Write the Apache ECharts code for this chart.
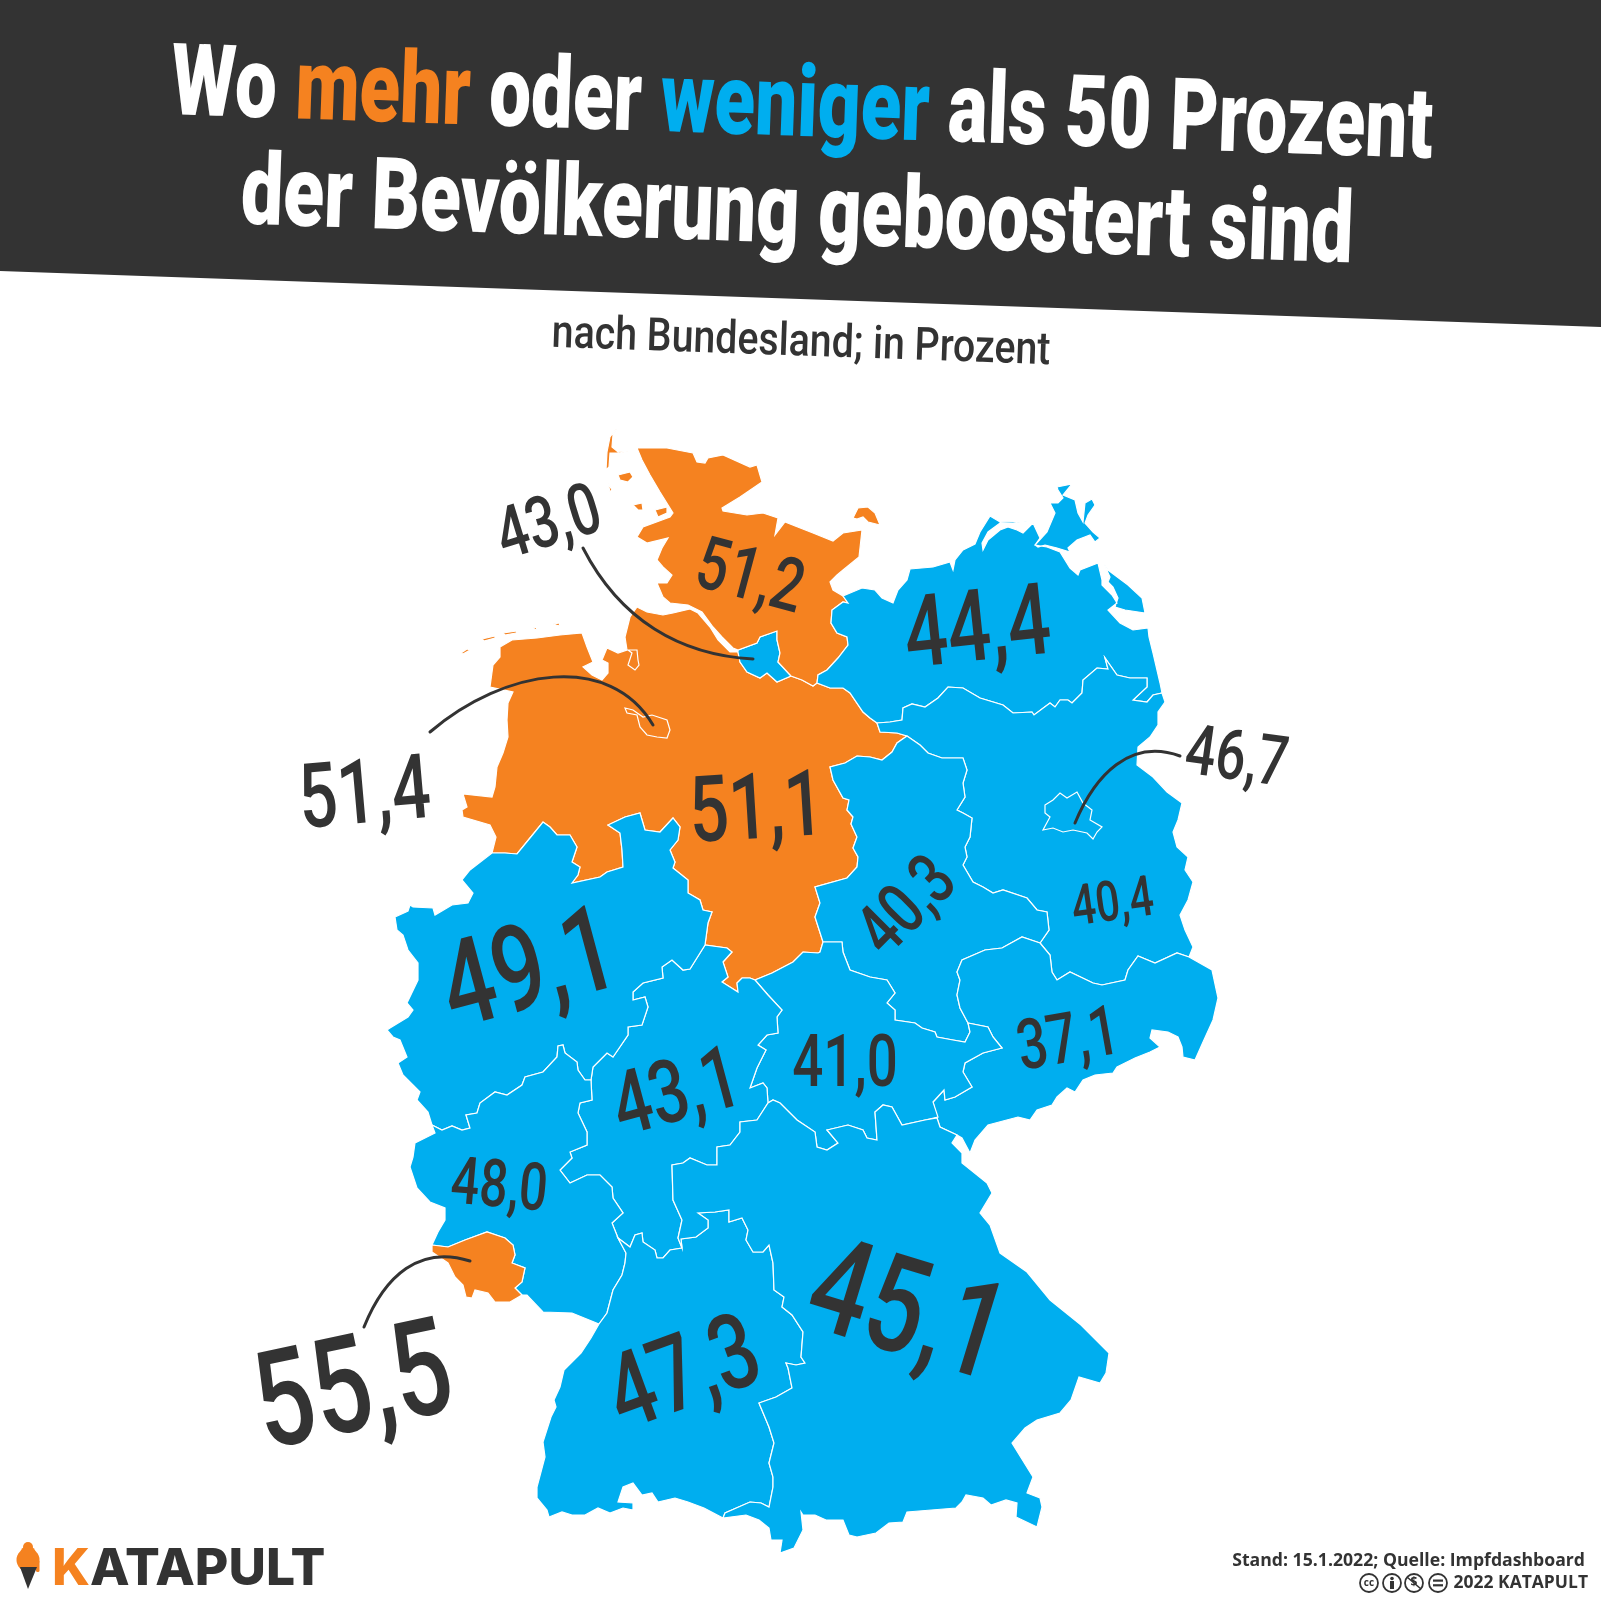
<!DOCTYPE html>
<html>
<head>
<meta charset="utf-8">
<style>html,body{margin:0;background:#fff}#box{width:1601px;height:1600px}</style>
<script src="https://cdn.jsdelivr.net/npm/echarts@6/dist/echarts.min.js"></script>
</head>
<body>
<div id="box"></div>
<script>
// booster quota per Bundesland, in Prozent
var stateNames  = ['Niedersachsen','Bremen','Hamburg','Schleswig-Holstein','Mecklenburg-Vorpommern','Brandenburg','Berlin','Sachsen-Anhalt','Sachsen','Thüringen','Hessen','Nordrhein-Westfalen','Rheinland-Pfalz','Saarland','Baden-Württemberg','Bayern'];
var stateValues = [51.1,51.4,43.0,51.2,44.4,40.4,46.7,40.3,37.1,41.0,43.1,49.1,48.0,55.5,47.3,45.1];

// label size/place, same order as stateNames
var labelX     = [757,365,550,749,978,1113,1236,910,1069,845,678,531,499,355,686,905];
var labelY     = [815,800,527,581,635,906,762,909,1044,1068,1098,977,1190,1396,1380,1320];
var labelSize  = [92,90,72,74,100,56,70,72,70,72,88,120,66,135,105,135];
var labelAngle = [-3.5,-5,-17,15,-6,-8,8,-45,-10,0,-15,-15,5,-12,-20,17];

var ORANGE = '#F58220', BLUE = '#00AEEF', DARK = '#333333';
var FONT = 'Roboto';

// borders, map units. shared borders are kept once, as arcs
var hhNorth = [[738,650],[757,643],[760,637],[777,631],[777,640],[780,653],[778,662],[791,676]];
var hhSouth = [[791,676],[777,682],[767,673],[760,678],[747,672],[740,662],[738,652]];
var shCoast = [[738,650],[733,648],[722,637],[713,627],[702,612],[688,605],[670,603],[663,597],[657,583],[667,583],[672,575],[663,567],[657,560],[662,548],[668,538],[647,543],[637,537],[643,527],[670,517],[673,513],[660,492],[650,475],[642,460],[637,448],[667,448],[693,453],[697,462],[705,463],[708,458],[723,455],[750,467],[757,465],[762,482],[740,497],[722,508],[723,511],[747,515],[763,513],[778,518],[775,535],[785,522],[813,533],[833,541],[843,533],[862,530],[859,557],[843,570],[837,575],[830,582],[833,590],[843,596],[848,603]];
var shMv = [[848,603],[843,602],[832,610],[831,623],[837,633],[847,637],[848,645],[838,658],[827,670],[818,675],[817,683]];
var niSh = [[791,676],[802,680],[813,686],[817,683]];
var niMv = [[817,683],[830,688],[843,688],[850,693],[863,712],[870,718],[877,723]];
var niBb = [[877,723],[880,732],[897,733],[907,736]];
var niSt = [[907,736],[897,743],[892,752],[882,760],[870,757],[857,756],[845,763],[830,767],[833,780],[843,798],[849,800],[847,810],[853,817],[851,824],[857,837],[853,848],[858,857],[857,867],[847,878],[815,887],[820,903],[815,917],[823,942]];
var niTh = [[823,942],[820,952],[818,953],[803,952],[793,962],[772,973],[755,980]];
var niHe = [[755,980],[750,978],[742,978],[737,983],[738,992],[722,982],[728,977],[723,962],[732,952],[727,948],[705,945]];
var niNrw = [[705,945],[708,923],[712,912],[703,910],[700,900],[688,893],[688,880],[673,868],[675,862],[670,850],[678,840],[680,827],[673,818],[660,832],[645,830],[640,813],[625,817],[608,825],[620,833],[622,850],[623,867],[607,872],[600,877],[572,883],[578,875],[580,867],[572,862],[577,847],[570,835],[557,835],[550,827],[543,822],[530,838],[517,854],[505,853],[492,853]];
var niCoast = [[492,853],[496,837],[490,825],[463,817],[462,810],[467,807],[463,794],[492,797],[495,787],[497,767],[503,753],[508,737],[507,720],[508,703],[513,692],[490,687],[493,665],[500,657],[500,647],[512,640],[537,638],[560,635],[582,633],[587,647],[593,662],[583,667],[592,675],[602,680],[608,673],[608,663],[602,660],[607,648],[618,653],[627,650],[625,637],[630,617],[637,607],[647,612],[663,615],[673,613],[690,609],[698,613],[710,627],[718,640],[730,652],[738,652]];
var mvCoast = [[848,603],[843,596],[862,588],[875,590],[882,598],[893,603],[898,590],[907,580],[910,569],[933,567],[950,562],[953,570],[955,560],[963,550],[975,544],[980,532],[990,516],[1000,522],[1027,521],[1013,523],[1000,523],[988,532],[982,543],[983,550],[988,540],[1000,530],[1008,527],[1017,530],[1023,533],[1033,523],[1040,538],[1035,545],[1047,547],[1060,552],[1070,568],[1078,575],[1080,570],[1098,563],[1102,580],[1102,585],[1112,595],[1117,603],[1108,610],[1120,623],[1133,630],[1148,628],[1149,637],[1153,653],[1160,683],[1162,693]];
var mvBb = [[877,723],[890,722],[902,720],[903,708],[912,704],[925,707],[938,698],[948,687],[963,688],[980,698],[1003,705],[1013,713],[1032,712],[1034,715],[1050,703],[1055,707],[1060,700],[1068,700],[1072,703],[1082,693],[1083,680],[1097,668],[1108,669],[1105,658],[1117,675],[1130,678],[1147,678],[1147,687],[1133,700],[1147,702],[1153,695],[1162,693]];
var oder = [[1162,693],[1165,702],[1158,712],[1158,725],[1150,737],[1138,747],[1137,765],[1153,777],[1167,792],[1182,803],[1178,820],[1173,832],[1177,847],[1188,857],[1185,870],[1193,882],[1188,900],[1180,915],[1185,930],[1193,947],[1189,957]];
var bbSn = [[1189,957],[1177,953],[1155,963],[1138,956],[1128,970],[1125,980],[1102,985],[1093,983],[1070,972],[1057,980],[1052,972],[1050,955],[1040,943]];
var bbSt = [[1040,943],[1049,930],[1047,912],[1037,910],[1027,898],[1003,890],[993,893],[983,887],[973,882],[963,865],[967,857],[965,847],[970,837],[972,818],[963,813],[957,810],[965,797],[963,783],[967,770],[963,758],[942,758],[928,753],[920,745],[907,736]];
var stSn = [[1040,943],[1022,937],[1002,948],[985,950],[962,960],[957,972],[960,980],[957,995],[960,1008],[968,1023]];
var stTh = [[823,942],[842,942],[843,952],[850,970],[870,977],[887,980],[895,993],[887,1003],[895,1010],[895,1020],[915,1023],[922,1028],[935,1032],[937,1037],[953,1040],[965,1042],[970,1032],[968,1023]];
var thSn = [[968,1023],[988,1027],[993,1037],[1002,1048],[983,1053],[965,1063],[963,1072],[972,1087],[955,1097],[945,1100],[944,1090],[933,1102],[938,1117],[937,1118]];
var thBy = [[937,1118],[925,1120],[902,1125],[892,1107],[883,1105],[875,1112],[877,1140],[867,1138],[863,1130],[848,1125],[827,1130],[838,1143],[827,1150],[817,1147],[815,1132],[797,1120],[780,1103],[773,1100],[768,1103]];
var snBy = [[957,1135],[940,1127],[937,1118]];
var snCz = [[1189,957],[1212,970],[1218,998],[1213,1020],[1203,1042],[1195,1060],[1183,1057],[1182,1047],[1178,1037],[1168,1032],[1152,1030],[1150,1038],[1160,1047],[1150,1052],[1135,1058],[1117,1067],[1113,1073],[1095,1075],[1083,1080],[1075,1092],[1067,1088],[1057,1097],[1052,1105],[1037,1110],[1030,1120],[1018,1117],[988,1125],[975,1140],[970,1153],[962,1138],[957,1135]];
var byEdge = [[957,1135],[952,1143],[962,1153],[962,1163],[987,1183],[992,1193],[980,1213],[990,1225],[1000,1253],[1027,1272],[1050,1300],[1081,1325],[1109,1353],[1106,1373],[1100,1383],[1079,1377],[1071,1400],[1060,1413],[1037,1420],[1025,1428],[1012,1443],[1033,1477],[1027,1493],[1040,1498],[1042,1507],[1037,1527],[1016,1517],[1017,1503],[1006,1500],[991,1505],[983,1498],[966,1495],[962,1502],[956,1508],[907,1512],[903,1522],[889,1523],[876,1533],[857,1537],[849,1535],[843,1520],[826,1520],[815,1515],[803,1515],[801,1512],[803,1530],[794,1548],[780,1553],[782,1540],[771,1540],[769,1528],[759,1520],[746,1515],[723,1518],[725,1513]];
var byBw = [[682,1248],[681,1239],[696,1237],[708,1228],[708,1220],[698,1213],[715,1212],[729,1210],[729,1222],[742,1218],[748,1230],[746,1240],[753,1252],[763,1252],[769,1245],[773,1263],[774,1290],[784,1297],[782,1307],[792,1315],[803,1332],[801,1357],[805,1363],[796,1365],[786,1363],[788,1368],[792,1388],[776,1397],[759,1403],[769,1427],[774,1443],[769,1463],[773,1477],[773,1487],[769,1507],[761,1503],[750,1502],[725,1513]];
var bwSouth = [[725,1513],[723,1518],[704,1508],[688,1502],[675,1498],[658,1502],[652,1493],[642,1495],[633,1483],[623,1487],[618,1502],[633,1503],[633,1510],[623,1508],[610,1513],[598,1508],[585,1515],[572,1515],[562,1512],[549,1517],[547,1510],[537,1498],[537,1487],[545,1457],[543,1442],[551,1417],[556,1407],[554,1400],[560,1387],[564,1370],[581,1353],[591,1338],[599,1324]];
var heBw = [[618,1238],[630,1247],[635,1235],[642,1233],[643,1242],[655,1250],[657,1258],[663,1258],[670,1250],[682,1248]];
var heBy = [[682,1248],[678,1238],[682,1220],[673,1200],[672,1165],[683,1163],[690,1158],[707,1165],[717,1165],[717,1147],[730,1145],[740,1132],[740,1122],[757,1120],[768,1103]];
var heTh = [[768,1103],[767,1088],[763,1083],[750,1088],[757,1068],[766,1050],[758,1045],[767,1035],[778,1033],[777,1017],[782,1010],[768,995],[755,980]];
var nrwHe = [[591,1080],[593,1067],[607,1053],[613,1057],[628,1035],[628,1027],[642,1025],[648,1007],[645,997],[633,1000],[633,992],[643,983],[663,978],[662,967],[672,960],[683,970],[690,969],[705,945]];
var nrwRp = [[432,1125],[442,1130],[452,1126],[462,1130],[470,1128],[466,1115],[477,1113],[480,1103],[495,1092],[507,1095],[522,1085],[525,1077],[543,1072],[557,1057],[558,1046],[563,1045],[565,1053],[577,1062],[578,1070],[585,1080],[591,1080]];
var nrwWest = [[492,853],[470,870],[462,880],[473,893],[468,903],[452,905],[435,915],[433,908],[413,907],[410,905],[408,911],[395,917],[397,930],[403,935],[408,950],[418,963],[418,980],[407,1003],[413,1010],[408,1017],[390,1028],[387,1030],[393,1037],[400,1040],[407,1057],[398,1063],[403,1075],[420,1092],[417,1100],[428,1112],[432,1125]];
var rpWest = [[432,1125],[435,1133],[415,1143],[413,1157],[410,1167],[417,1188],[430,1202],[445,1208],[445,1220],[438,1232],[432,1245]];
var slRp = [[432,1245],[448,1247],[465,1240],[487,1232],[505,1238],[513,1245],[515,1255],[512,1263],[525,1268],[522,1282],[515,1288],[522,1295]];
var slSouth = [[522,1295],[510,1302],[495,1302],[488,1293],[475,1290],[472,1298],[466,1297],[463,1285],[455,1277],[448,1263],[432,1252],[432,1245]];
var rpSouth = [[522,1295],[527,1295],[543,1312],[572,1313],[599,1324]];
var rpBw = [[599,1324],[607,1313],[613,1290],[622,1275],[625,1263],[626,1253],[618,1238]];
var rpHe = [[618,1238],[612,1223],[623,1213],[613,1198],[612,1187],[600,1175],[587,1175],[570,1183],[560,1170],[572,1158],[570,1152],[587,1145],[587,1132],[578,1113],[580,1103],[592,1100],[591,1080]];

// islands and enclaves
var sylt = [[617,428],[610,437],[607,452],[606,470],[609,467],[610,453],[620,453],[628,451],[618,452],[612,447],[613,435]];
var foehr = [[618,475],[630,472],[633,477],[628,482],[620,480]];
var amrum = [[608,483],[612,490],[610,492]];
var pellworm = [[633,505],[642,503],[643,510],[638,510]];
var nordstrand = [[655,510],[667,507],[667,513],[658,517]];
var fehmarn = [[853,518],[858,508],[868,507],[875,513],[880,525],[868,522],[863,517],[857,519]];
var ruegen = [[1057,487],[1072,484],[1063,495],[1075,500],[1078,513],[1083,522],[1085,503],[1092,499],[1095,505],[1088,515],[1085,523],[1093,532],[1100,538],[1095,542],[1090,535],[1077,540],[1068,548],[1070,552],[1057,548],[1045,545],[1038,547],[1035,545],[1047,532],[1055,513],[1052,507],[1050,503],[1058,503],[1063,498],[1058,490]];
var usedom = [[1104,564],[1108,570],[1128,585],[1142,598],[1145,613],[1125,610],[1115,607],[1118,598],[1113,587],[1108,582],[1110,577]];
var ostfriesen = [[[461,653],[467,649],[470,650],[463,654]],[[482,639],[495,636],[495,638],[484,641]],[[503,633],[517,631],[516,633],[505,635]],[[533,628],[537,627],[536,630]],[[553,624],[560,623],[559,626]]];
var bremen = [[625,708],[633,710],[643,717],[652,715],[667,720],[670,730],[667,738],[657,737],[647,735],[640,727],[637,715],[627,713]];
var bremerhaven = [[628,650],[637,650],[638,660],[639,665],[635,670],[628,665],[632,653]];
var berlin = [[1045,805],[1053,800],[1060,793],[1067,798],[1077,792],[1083,803],[1092,810],[1090,820],[1102,827],[1097,832],[1093,839],[1087,833],[1073,830],[1063,832],[1053,828],[1043,830],[1050,817],[1045,813]];

function rev(a) { return a.slice().reverse(); }
function ring() {
    var out = [];
    for (var i = 0; i < arguments.length; i++) out = out.concat(arguments[i]);
    return out;
}

// outlines per state, same order as stateNames
var stateShapes = [
    [ring(rev(hhSouth), niSh, niMv, niBb, niSt, niTh, niHe, niNrw, niCoast)].concat(ostfriesen),
    [bremen, bremerhaven],
    [ring(hhNorth, hhSouth)],
    [ring(shCoast, shMv, rev(niSh), rev(hhNorth)), sylt, foehr, amrum, pellworm, nordstrand, fehmarn],
    [ring(rev(shMv), mvCoast, rev(mvBb), rev(niMv)), ruegen, usedom],
    [ring(mvBb, oder, bbSn, bbSt, rev(niBb))],
    [berlin],
    [ring(niSt, stTh, rev(stSn), bbSt)],
    [ring(rev(bbSn), snCz, snBy, rev(thSn), rev(stSn))],
    [ring(stTh, thSn, thBy, heTh, rev(niTh))],
    [ring(heTh, niHe, rev(nrwHe), rev(rpHe), heBw, heBy)],
    [ring(niNrw, nrwWest, nrwRp, nrwHe)],
    [ring(rpWest, slRp, rpSouth, rpBw, rpHe, rev(nrwRp))],
    [ring(slRp, slSouth)],
    [ring(heBw, byBw, bwSouth, rpBw)],
    [ring(heBy, rev(thBy), rev(snBy), byEdge, rev(byBw))]
];

function closed(r) { return r.concat([r[0]]); }

echarts.registerMap('deutschland', {
    type: 'FeatureCollection',
    features: stateNames.map(function (name, i) {
        return {
            type: 'Feature',
            properties: { name: name },
            geometry: {
                type: 'MultiPolygon',
                coordinates: stateShapes[i].map(function (r) { return [closed(r)]; })
            }
        };
    })
});

var chart = echarts.init(document.getElementById('box'));
var rad = Math.PI / 180;

chart.setOption({
    animation: false,
    backgroundColor: '#ffffff',
    visualMap: {
        show: false,
        type: 'piecewise',
        seriesIndex: 0,
        pieces: [
            { gt: 50, color: ORANGE },
            { lte: 50, color: BLUE }
        ]
    },
    geo: {
        map: 'deutschland',
        left: 0, top: 0, width: 1601, height: 1600,
        boundingCoords: [[0, 0], [1601, 1600]],
        projection: {
            project: function (p) { return [p[0], p[1]]; },
            unproject: function (p) { return [p[0], p[1]]; }
        },
        silent: true,
        label: { show: false },
        itemStyle: { areaColor: BLUE, borderColor: '#ffffff', borderWidth: 1.2 }
    },
    series: [{
        type: 'map',
        geoIndex: 0,
        silent: true,
        data: stateNames.map(function (n, i) { return { name: n, value: stateValues[i] }; })
    }]
});

function title(text, x, y, size, sx, rich) {
    return {
        type: 'text', x: x, y: y, scaleX: sx, rotation: -2 * rad, z: 20,
        style: {
            text: text, fill: '#ffffff', fontFamily: FONT, fontWeight: 900, fontSize: size,
            align: 'center', verticalAlign: 'middle', rich: rich
        }
    };
}
function tok(color, size) { return { fill: color, fontFamily: FONT, fontWeight: 900, fontSize: size }; }

var at = function (x, y) { return chart.convertToPixel({ geoIndex: 0 }, [x, y]); };
function leader(a, c1, c2, b) {
    var p0 = at(a[0], a[1]), p1 = at(c1[0], c1[1]), p2 = at(c2[0], c2[1]), p3 = at(b[0], b[1]);
    return {
        type: 'bezierCurve', z: 15,
        shape: { x1: p0[0], y1: p0[1], cpx1: p1[0], cpy1: p1[1], cpx2: p2[0], cpy2: p2[1], x2: p3[0], y2: p3[1] },
        style: { stroke: DARK, lineWidth: 3, fill: null, lineCap: 'round' }
    };
}

var els = [
    { type: 'polygon', z: 5, shape: { points: [[0, 0], [1601, 0], [1601, 327], [0, 271]] }, style: { fill: DARK } },
    title('Wo {o|mehr} oder {b|weniger} als 50 Prozent', 802, 111, 100, 0.746, {
        o: tok(ORANGE, 100), b: tok(BLUE, 100)
    }),
    title('der Bevölkerung geboostert sind', 797, 218, 100, 0.752),
    {
        type: 'text', x: 801, y: 344, scaleX: 0.854, rotation: -2 * rad, z: 20,
        style: { text: 'nach Bundesland; in Prozent', fill: DARK, fontFamily: FONT, fontWeight: 500, fontSize: 46, align: 'center', verticalAlign: 'middle' }
    },
    leader([583, 548], [620, 620], [680, 655], [753, 659]),
    leader([430, 732], [505, 668], [610, 652], [653, 725]),
    leader([1180, 756], [1130, 738], [1095, 775], [1075, 823]),
    leader([364, 1327], [385, 1275], [420, 1245], [470, 1261]),
    // logo
    { type: 'circle', z: 20, shape: { cx: 28, cy: 1547, r: 5 }, style: { fill: ORANGE } },
    { type: 'circle', z: 20, shape: { cx: 28, cy: 1554, r: 8 }, style: { fill: ORANGE } },
    { type: 'circle', z: 20, shape: { cx: 28, cy: 1560, r: 11.5 }, style: { fill: ORANGE } },
    { type: 'rect', z: 20, shape: { x: 36, y: 1560, width: 3.5, height: 12, r: 1.5 }, style: { fill: ORANGE } },
    { type: 'polygon', z: 20, shape: { points: [[20, 1567], [37, 1567], [28, 1589]] }, style: { fill: DARK } },
    {
        type: 'text', x: 52, y: 1570, scaleX: 1.01, z: 20,
        style: {
            text: '{k|K}{r|ATAPULT}', align: 'left', verticalAlign: 'middle',
            rich: {
                k: { fill: ORANGE, fontFamily: 'Inter', fontWeight: 800, fontSize: 51 },
                r: { fill: DARK, fontFamily: 'Inter', fontWeight: 800, fontSize: 51 }
            }
        }
    },
    // source
    {
        type: 'text', x: 1585, y: 1561, scaleX: 0.98, z: 20,
        style: { text: 'Stand: 15.1.2022; Quelle: Impfdashboard', fill: DARK, fontFamily: '"Open Sans"', fontWeight: 'bold', fontSize: 18, align: 'right', verticalAlign: 'middle' }
    },
    {
        type: 'text', x: 1588, y: 1583, scaleX: 0.97, z: 20,
        style: { text: '2022 KATAPULT', fill: DARK, fontFamily: '"Open Sans"', fontWeight: 'bold', fontSize: 18, align: 'right', verticalAlign: 'middle' }
    }
];

// cc badges
[1369, 1392, 1414, 1438].forEach(function (cx, i) {
    els.push({ type: 'circle', z: 20, shape: { cx: cx, cy: 1583, r: 9 }, style: { fill: '#fff', stroke: DARK, lineWidth: 1.8 } });
    if (i === 0) els.push({ type: 'text', x: cx, y: 1583, z: 21, style: { text: 'cc', fill: DARK, fontFamily: '"Open Sans"', fontWeight: 'bold', fontSize: 10, align: 'center', verticalAlign: 'middle' } });
    if (i === 1) {
        els.push({ type: 'circle', z: 21, shape: { cx: cx, cy: 1578.5, r: 1.8 }, style: { fill: DARK } });
        els.push({ type: 'rect', z: 21, shape: { x: cx - 2, y: 1581, width: 4, height: 8 }, style: { fill: DARK } });
    }
    if (i === 2) {
        els.push({ type: 'text', x: cx, y: 1583, z: 21, style: { text: '$', fill: DARK, fontFamily: '"Open Sans"', fontWeight: 'bold', fontSize: 12, align: 'center', verticalAlign: 'middle' } });
        els.push({ type: 'line', z: 21, shape: { x1: cx - 7, y1: 1577, x2: cx + 7, y2: 1589 }, style: { stroke: DARK, lineWidth: 1.6 } });
    }
    if (i === 3) {
        els.push({ type: 'rect', z: 21, shape: { x: cx - 5, y: 1579.5, width: 10, height: 2.2 }, style: { fill: DARK } });
        els.push({ type: 'rect', z: 21, shape: { x: cx - 5, y: 1584.2, width: 10, height: 2.2 }, style: { fill: DARK } });
    }
});

// value labels
stateNames.forEach(function (n, i) {
    var p = at(labelX[i], labelY[i]);
    els.push({
        type: 'text', x: p[0], y: p[1], scaleX: 0.76, rotation: -labelAngle[i] * rad, z: 18,
        style: {
            text: stateValues[i].toFixed(1).replace('.', ','), fill: DARK, fontFamily: FONT, fontWeight: 500,
            fontSize: labelSize[i], align: 'center', verticalAlign: 'middle'
        }
    });
});

chart.setOption({ graphic: { elements: els } });
</script>
</body>
</html>
